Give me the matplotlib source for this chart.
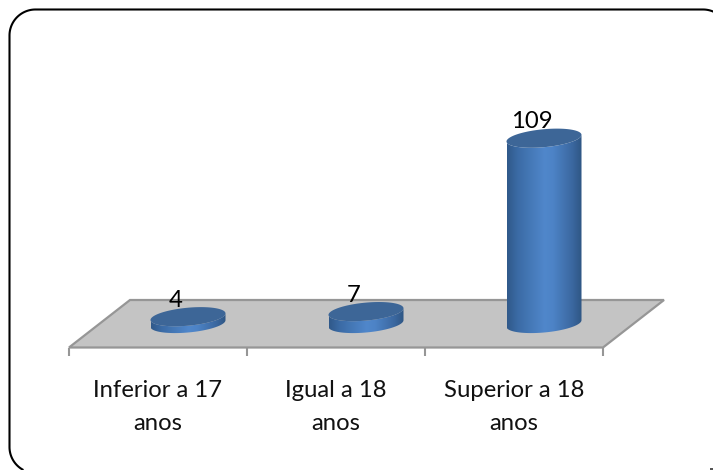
import numpy as np
import matplotlib
matplotlib.use("Agg")
import matplotlib.pyplot as plt
from matplotlib.patches import Polygon, PathPatch
from matplotlib.path import Path
from matplotlib.colors import LinearSegmentedColormap
from matplotlib.transforms import Affine2D

categories = ["Inferior a 17\nanos", "Igual a 18\nanos", "Superior a 18\nanos"]
values = [4, 7, 109]

W, H = 713, 470
X0, DX = 188.0, 178.0       # pixel of first bar, spacing
Y0, SY = 323.5, 1.70        # pixel of value 0, pixels per unit
SHIFT = 30 / DX             # floor depth offset in category units

fig = plt.figure(figsize=(W / 100, H / 100), dpi=100, facecolor="white")
ax = fig.add_axes([0, 0, 1, 1])
ax.set_xlim(-X0 / DX, (W - X0) / DX)
ax.set_ylim((Y0 - H) / SY, Y0 / SY)
ax.axis("off")

fy = lambda py: (Y0 - py) / SY

# frame, in pixel coordinates (the rounded box runs past the right and bottom edges)
L, T, R, Bt, RAD = 9.5, 9.5, 729.0, 473.0, 26.0
def arc(cx, cy, a0, a1):
    th = np.radians(np.linspace(a0, a1, 40))
    return cx + RAD * np.cos(th), cy + RAD * np.sin(th)
x1, y1 = arc(L + RAD, Bt - RAD, 120, 180)     # bottom-left, image y down
x2, y2 = arc(L + RAD, T + RAD, 180, 270)      # top-left
x3, y3 = arc(R - RAD, T + RAD, 270, 300)      # top-right
fx_pts = np.r_[x1, x2, x3]
fy_pts = np.r_[y1, y2, y3]
to_px = Affine2D().scale(1, -1).translate(0, H)
fig.add_artist(plt.Line2D(fx_pts, fy_pts, color="black", lw=1.5, transform=to_px, zorder=1))
fig.add_artist(plt.Line2D([709.5, 712.5], [469.2, 469.2], color="#333333", lw=1.2,
                          transform=to_px, zorder=1, solid_capstyle="butt"))

# floor
y_front, y_back = fy(347.5), fy(300)
left, right = -0.5 - SHIFT, 2.5 - SHIFT
back_off = 61 / DX
ax.add_patch(Polygon([(left, y_front), (left + back_off, y_back), (right + back_off, y_back), (right, y_front)],
                     closed=True, fc="#c4c4c4", ec="#969696", lw=1.6, zorder=2))
for k in range(4):
    xt = left + k
    ax.plot([xt, xt], [y_front, fy(355.5)], color="#969696", lw=1.5, zorder=2, solid_capstyle="butt")

# cylinders
cmap = LinearSegmentedColormap.from_list(
    "cyl", [(0, "#30598a"), (0.14, "#3b6ba5"), (0.5, "#5087cb"), (0.62, "#4d83c6"), (0.88, "#3a679f"), (1, "#2f5684")])
grad = np.linspace(0, 1, 128).reshape(1, -1)
A, B, TILT = 37.5, 9.0, 3.3
t = np.linspace(0, 2 * np.pi, 120)
for i, v in enumerate(values):
    ex = A * np.cos(t)
    ey = B * np.sin(t) + TILT * np.cos(t)   # pixels, +y is up
    xs, ys = i + ex / DX, ey / SY
    lower = t >= np.pi
    order = np.argsort(xs[lower])
    xb, yb = xs[lower][order], ys[lower][order]
    side = np.column_stack([np.r_[xb, xb[::-1]], np.r_[yb, yb[::-1] + v]])
    side_path = Path(np.vstack([side, side[0]]), closed=True)
    im = ax.imshow(grad, cmap=cmap, aspect="auto", zorder=3,
                   extent=(i - A / DX, i + A / DX, -30, 180))
    p = PathPatch(side_path, fc="none", ec="none", transform=ax.transData, zorder=3)
    ax.add_patch(p)
    im.set_clip_path(p)
    ax.fill(xs, ys + v, color="#3d6697", lw=0, zorder=4)

ax.set_xlim(-X0 / DX, (W - X0) / DX)
ax.set_ylim((Y0 - H) / SY, Y0 / SY)

FONT = ["Lato", "DejaVu Sans"]
for i, (c, v) in enumerate(zip(categories, values)):
    ax.text(i - SHIFT, fy(407), c, ha="center", va="center", fontsize=17.2, family=FONT,
            linespacing=1.68, color="#111111", zorder=5)
    ax.text(i - 12 / DX, v + 10 / SY, str(v), ha="center", va="baseline", fontsize=17.2, family=FONT,
            color="black", zorder=5)

fig.savefig("out.png", dpi=100)
